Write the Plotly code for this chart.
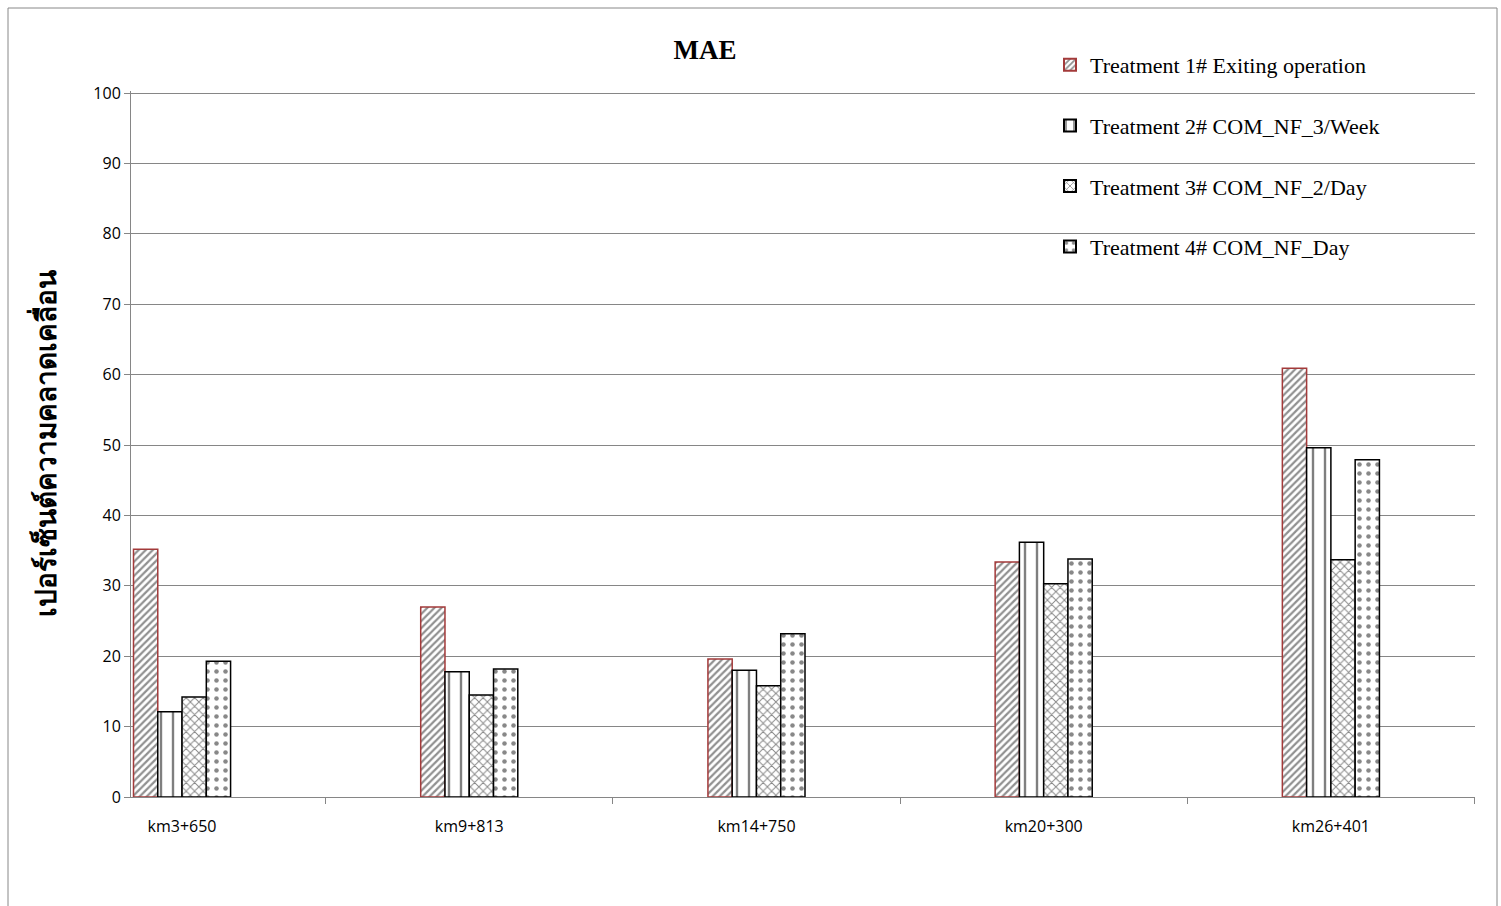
import plotly.graph_objects as go

# Station categories along the route
stations = ["km3+650", "km9+813", "km14+750", "km20+300", "km26+401"]

# MAE (%) per treatment at each station
t1_existing = [35.2, 27.0, 19.6, 33.4, 60.9]
t2_3week = [12.1, 17.8, 18.0, 36.2, 49.6]
t3_2day = [14.2, 14.5, 15.8, 30.3, 33.7]
t4_day = [19.3, 18.2, 23.2, 33.8, 47.9]

series_names = [
    "Treatment 1# Exiting operation",
    "Treatment 2# COM_NF_3/Week",
    "Treatment 3# COM_NF_2/Day",
    "Treatment 4# COM_NF_Day",
]

y_ticks = [0, 10, 20, 30, 40, 50, 60, 70, 80, 90, 100]

x_pos = list(range(len(stations)))

styles = [
    dict(shape="/", size=5, solidity=0.45, line="#a33a3a", fg="#222222"),
    dict(shape="|", size=12, solidity=0.2, line="#000000", fg="#000000"),
    dict(shape="x", size=6, solidity=0.3, line="#000000", fg="#111111"),
    dict(shape=".", size=9, solidity=0.2, line="#000000", fg="#111111"),
]

fig = go.Figure()
for i, (name, vals) in enumerate(zip(series_names, [t1_existing, t2_3week, t3_2day, t4_day])):
    s = styles[i]
    fig.add_trace(go.Bar(
        x=x_pos, y=vals, name=name, legendgroup=f"g{i}",
        marker=dict(
            color="white",
            line=dict(color=s["line"], width=1.5),
            pattern=dict(shape=s["shape"], size=s["size"], solidity=s["solidity"],
                         fgcolor=s["fg"], bgcolor="white", fillmode="overlay"),
        ),
        hoverinfo="skip",
    ))

# plot area: x 131..1475 px, y 91..797 px (value 100 sits at ~93 px)
fig.update_layout(
    width=1501, height=906,
    margin=dict(l=131, r=26, t=91, b=109),
    paper_bgcolor="white", plot_bgcolor="white",
    barmode="group", bargap=0.662, bargroupgap=0,
    title=dict(text="<b>MAE</b>", x=705 / 1501, xanchor="center", y=1 - 50 / 906, yanchor="middle",
               font=dict(family="Liberation Serif", size=27, color="black")),
    legend=dict(
        x=(1050 - 131) / 1344, xanchor="left", y=(797 - 44) / 706, yanchor="top",
        bgcolor="rgba(0,0,0,0)", tracegroupgap=29,
        font=dict(family="Liberation Serif", size=22, color="black"),
        itemsizing="constant",
    ),
    xaxis=dict(
        range=[-51 / 287, 4 + 144 / 287], tickvals=x_pos, ticktext=stations,
        ticks="", showgrid=False, zeroline=False,
        showline=True, linecolor="#868686", linewidth=1,
        tickfont=dict(family="Open Sans", size=16, color="black"),
        ticklabelstandoff=15,
        minor=dict(tick0=0.5, dtick=1, ticks="outside", ticklen=6, tickcolor="#868686", showgrid=False),
    ),
    yaxis=dict(
        range=[0, 100.3], tickvals=y_ticks, ticks="outside", ticklen=6, tickcolor="#868686",
        showgrid=True, gridcolor="#868686", gridwidth=1, zeroline=False,
        showline=True, linecolor="#868686", linewidth=1,
        tickfont=dict(family="Open Sans", size=16, color="black"),
        title=dict(text="<b>เปอร์เซ็นต์ความคลาดเคลื่อน</b>", standoff=28,
                   font=dict(family="Noto Sans", size=28, color="black")),
    ),
    shapes=[dict(type="rect", xref="paper", yref="paper",
                 x0=(8 - 131) / 1344, x1=(1497 - 131) / 1344,
                 y0=(797 - 912) / 706, y1=(797 - 8) / 706,
                 line=dict(color="#888888", width=1), layer="below")],
)

fig.write_html("out.html")
